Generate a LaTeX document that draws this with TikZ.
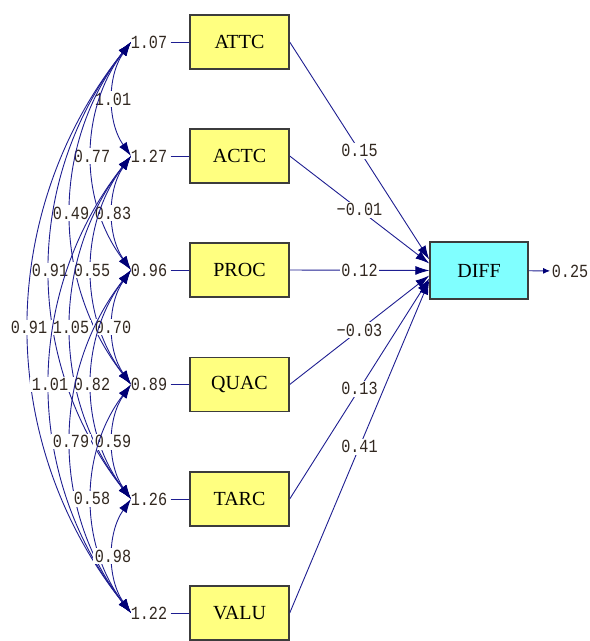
\documentclass[tikz,border=0pt]{standalone}
\usepackage{fontspec}
\setmainfont{Liberation Serif}
\newfontfamily\numfont[FakeStretch=0.82]{Liberation Mono}
\usetikzlibrary{arrows.meta,calc}

\definecolor{pathblue}{RGB}{30,30,145}
\definecolor{tipnavy}{RGB}{0,0,118}
\definecolor{boxyellow}{RGB}{255,255,128}
\definecolor{boxcyan}{RGB}{128,255,255}
\definecolor{boxedge}{RGB}{60,60,60}
\definecolor{numcol}{RGB}{50,40,32}

\begin{document}
\begin{tikzpicture}[x=1pt,y=-1pt,
  var/.style={draw=boxedge, line width=1.4pt, fill=boxyellow,
    minimum width=99pt, minimum height=54pt, inner sep=0pt,
    font=\fontsize{20}{20}\selectfont},
  num/.style={text=numcol, font=\numfont\fontsize{18.5}{18.5}\selectfont, inner sep=1.5pt},
  coef/.style={num, fill=white},
  link/.style={draw=pathblue, line width=0.9pt},
  headtip/.style={-{Latex[length=14pt,width=9pt,color=tipnavy]}},
  twotip/.style={{Latex[length=14pt,width=9pt,color=tipnavy]}-{Latex[length=14pt,width=9pt,color=tipnavy]}},
]
\useasboundingbox (0,0) rectangle (590,641);

% observed variables
\node[var] (ATTC) at (239.5,42)    {ATTC};
\node[var] (ACTC) at (239.5,156)   {ACTC};
\node[var] (PROC) at (239.5,270)   {PROC};
\node[var] (QUAC) at (239.5,384.5) {QUAC};
\node[var] (TARC) at (239.5,499)   {TARC};
\node[var] (VALU) at (239.5,613)   {VALU};
\node[var, fill=boxcyan, minimum width=98pt, minimum height=57pt] (DIFF) at (479,270.5) {DIFF};

% covariance end points
\foreach \y [count=\i] in {42,156,270,384.5,499,613}
  \coordinate (t\i) at (131,\y);

% covariances between the exogenous variables
\foreach \a/\b/\r in {1/2/1.01, 1/3/0.77, 2/3/0.83, 1/4/0.49, 2/4/0.55, 3/4/0.70,
                      1/5/0.91, 2/5/1.05, 3/5/0.82, 4/5/0.59,
                      1/6/0.91, 2/6/1.01, 3/6/0.79, 4/6/0.58, 5/6/0.98} {
  \pgfmathsetmacro\ya{{42,156,270,384.5,499,613}[\a-1]}
  \pgfmathsetmacro\yb{{42,156,270,384.5,499,613}[\b-1]}
  \pgfmathsetmacro\s{18+21*(\b-\a-1)}
  \pgfmathsetmacro\cx{131-4*\s/3}
  \pgfmathsetmacro\cd{0.3*(\yb-\ya)}
  \draw[link, twotip] (t\a) .. controls (\cx,\ya+\cd) and (\cx,\yb-\cd) .. (t\b)
    node[coef, pos=0.5] {\r};
}

% variances and their ties to the boxes
\foreach \n/\y/\v [count=\i] in {ATTC/42/1.07, ACTC/156/1.27, PROC/270/0.96,
                                 QUAC/384.5/0.89, TARC/499/1.26, VALU/613/1.22} {
  \node[num, outer sep=2pt] (v\i) at (149,\y) {\v};
  \draw[link] (v\i) -- (\n);
}

% regression paths into DIFF
\foreach \n/\dy/\c [count=\i] in {ATTC/-11/0.15, ACTC/-7/\char"2212 0.01, PROC/0/0.12,
                                  QUAC/5/\char"2212 0.03, TARC/8/0.13, VALU/10/0.41} {
  \coordinate (d\i) at ($(DIFF.west)+(0,\dy)$);
  \draw[link, headtip] (\n.east) -- (d\i) node[coef, pos=0.5] {\c};
}

% residual variance of DIFF
\node[num] (err) at (570,271) {0.25};
\draw[link, -{Latex[length=7pt,width=6pt,color=tipnavy]}] (DIFF) -- (err);
\end{tikzpicture}
\end{document}
